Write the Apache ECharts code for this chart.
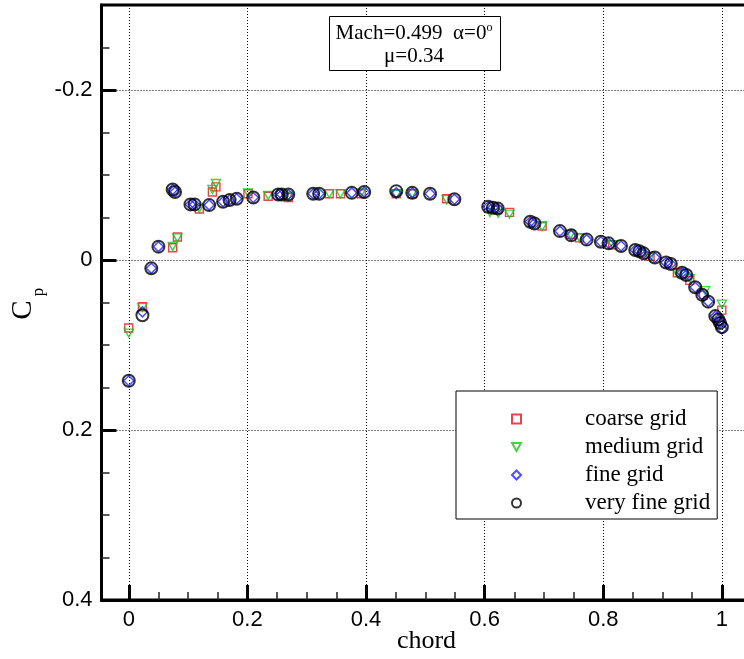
<!DOCTYPE html>
<html>
<head>
<meta charset="utf-8">
<title>Cp distribution</title>
<script src="https://cdn.jsdelivr.net/npm/echarts@6/dist/echarts.min.js"></script>
<style>
  html, body { margin: 0; padding: 0; background: #fff; }
  #chart { width: 744px; height: 659px; }
</style>
</head>
<body>
<div id="chart"></div>
<script>
// Pressure coefficient along the chord, four grid levels
const coarseX  = [0, 0.023, 0.074, 0.082, 0.119, 0.141, 0.147, 0.201, 0.235, 0.269, 0.338, 0.357, 0.392, 0.451, 0.478, 0.536, 0.622, 0.642, 0.697, 0.745, 0.760, 0.816, 0.879, 0.925, 0.946, 0.969, 1.0];
const coarseCp = [0.080, 0.055, -0.0145, -0.027, -0.060, -0.080, -0.086, -0.078, -0.075, -0.0735, -0.078, -0.078, -0.078, -0.078, -0.078, -0.072, -0.059, -0.056, -0.040, -0.030, -0.026, -0.018, -0.0045, 0.015, 0.024, 0.041, 0.059];

const mediumX  = [0, 0.023, 0.074, 0.082, 0.119, 0.141, 0.147, 0.201, 0.235, 0.269, 0.338, 0.357, 0.392, 0.451, 0.478, 0.536, 0.609, 0.623, 0.642, 0.697, 0.745, 0.760, 0.816, 0.879, 0.925, 0.946, 0.972, 1.0];
const mediumCp = [0.086, 0.056, -0.016, -0.026, -0.061, -0.083, -0.090, -0.079, -0.076, -0.075, -0.078, -0.078, -0.079, -0.077, -0.078, -0.071, -0.056, -0.055, -0.054, -0.039, -0.030, -0.026, -0.018, -0.003, 0.016, 0.022, 0.036, 0.052];

const fineX  = [0, 0.023, 0.038, 0.050, 0.074, 0.078, 0.104, 0.111, 0.1355, 0.159, 0.170, 0.182, 0.210, 0.252, 0.258, 0.269, 0.311, 0.321, 0.376, 0.397, 0.451, 0.478, 0.508, 0.549, 0.606, 0.614, 0.622, 0.677, 0.684, 0.727, 0.746, 0.772, 0.796, 0.809, 0.830, 0.854, 0.861, 0.868, 0.887, 0.906, 0.914, 0.933, 0.940, 0.955, 0.967, 0.977, 0.989, 0.994, 0.997, 1.0];
const fineCp = [0.142, 0.061, 0.0098, -0.0157, -0.083, -0.080, -0.0654, -0.0654, -0.0646, -0.0685, -0.0705, -0.072, -0.0736, -0.077, -0.077, -0.077, -0.078, -0.078, -0.079, -0.080, -0.079, -0.079, -0.078, -0.0715, -0.0626, -0.0614, -0.0607, -0.045, -0.043, -0.034, -0.029, -0.024, -0.0215, -0.0196, -0.0164, -0.0117, -0.0102, -0.0078, -0.003, 0.003, 0.0047, 0.015, 0.0176, 0.032, 0.041, 0.049, 0.066, 0.070, 0.074, 0.081];

const veryFineX  = [0, 0.023, 0.038, 0.050, 0.074, 0.078, 0.104, 0.111, 0.1355, 0.159, 0.170, 0.182, 0.210, 0.252, 0.258, 0.269, 0.311, 0.321, 0.376, 0.397, 0.451, 0.478, 0.508, 0.549, 0.606, 0.614, 0.622, 0.677, 0.684, 0.727, 0.746, 0.772, 0.796, 0.809, 0.830, 0.854, 0.861, 0.868, 0.887, 0.906, 0.914, 0.933, 0.940, 0.955, 0.967, 0.977, 0.989, 0.994, 0.997, 1.0];
const veryFineCp = [0.142, 0.065, 0.0098, -0.0157, -0.083, -0.080, -0.0654, -0.0654, -0.0646, -0.0685, -0.0705, -0.072, -0.0736, -0.077, -0.077, -0.077, -0.078, -0.078, -0.079, -0.080, -0.081, -0.079, -0.078, -0.0715, -0.0626, -0.0614, -0.0607, -0.045, -0.043, -0.034, -0.029, -0.024, -0.0215, -0.0196, -0.0164, -0.0117, -0.0102, -0.0078, -0.003, 0.003, 0.0047, 0.015, 0.0176, 0.032, 0.041, 0.049, 0.066, 0.070, 0.074, 0.079];

const seriesNames = ['coarse grid', 'medium grid', 'fine grid', 'very fine grid'];

// axis ticks
const xMajorTicks = [0, 0.2, 0.4, 0.6, 0.8, 1];
const xMinorTicks = [0.05, 0.1, 0.15, 0.25, 0.3, 0.35, 0.45, 0.5, 0.55, 0.65, 0.7, 0.75, 0.85, 0.9, 0.95];
const yMajorTicks = [-0.2, 0, 0.2, 0.4];
const yMinorTicks = [-0.25, -0.15, -0.1, -0.05, 0.05, 0.1, 0.15, 0.25, 0.3, 0.35];

const X_MIN = -0.046, X_MAX = 1.05;
const Y_MIN = -0.3, Y_MAX = 0.4;

const pair = (xs, ys) => xs.map((x, i) => [x, ys[i]]);

const sansFont = 'Liberation Sans, Arial, sans-serif';
const serifFont = 'Liberation Serif, Times New Roman, serif';
const gridDots = { color: '#000', width: 1, type: [1, 2] };

const chart = echarts.init(document.getElementById('chart'), null, { renderer: 'canvas' });

chart.setOption({
  animation: false,
  backgroundColor: '#fff',
  grid: {
    left: 101.5, top: 5, width: 650, height: 595,
    outerBoundsMode: 'none', containLabel: false,
    show: true, borderColor: '#000', borderWidth: 3, backgroundColor: 'transparent'
  },
  xAxis: [
    {
      type: 'value', min: X_MIN, max: X_MAX, position: 'bottom',
      axisLine: { show: true, onZero: false, lineStyle: { color: '#000', width: 3 } },
      axisTick: { show: true, inside: true, length: 15, customValues: xMajorTicks, lineStyle: { color: '#000', width: 3 } },
      axisLabel: { customValues: xMajorTicks, color: '#000', fontSize: 22, fontFamily: sansFont, margin: 9 },
      splitLine: { show: true, lineStyle: gridDots },
      name: 'chord', nameLocation: 'middle', nameGap: 28, nameMoveOverlap: false,
      nameTextStyle: { color: '#000', fontSize: 26, fontFamily: serifFont }
    },
    {
      type: 'value', min: X_MIN, max: X_MAX, position: 'bottom',
      axisLine: { show: false, onZero: false },
      axisTick: { show: true, inside: true, length: 8, customValues: xMinorTicks, lineStyle: { color: '#222', width: 1.5 } },
      axisLabel: { show: false },
      splitLine: { show: false }
    }
  ],
  yAxis: [
    {
      type: 'value', min: Y_MIN, max: Y_MAX, inverse: true, position: 'left',
      axisLine: { show: true, onZero: false, lineStyle: { color: '#000', width: 3 } },
      axisTick: { show: true, inside: true, length: 15, customValues: yMajorTicks, lineStyle: { color: '#000', width: 3 } },
      axisLabel: { customValues: yMajorTicks, color: '#000', fontSize: 22, fontFamily: sansFont, margin: 9 },
      splitLine: { show: true, lineStyle: gridDots }
    },
    {
      type: 'value', min: Y_MIN, max: Y_MAX, inverse: true, position: 'left',
      axisLine: { show: false, onZero: false },
      axisTick: { show: true, inside: true, length: 8, customValues: yMinorTicks, lineStyle: { color: '#222', width: 1.5 } },
      axisLabel: { show: false },
      splitLine: { show: false }
    }
  ],
  legend: {
    orient: 'vertical', left: 456, top: 391,
    itemWidth: 9, itemHeight: 9, itemGap: 0,
    padding: [14, 7, 2, 55],
    borderColor: '#000', borderWidth: 1, backgroundColor: '#fff',
    textStyle: { color: '#000', fontSize: 23, fontFamily: serifFont, lineHeight: 28, padding: [0, 0, 0, 59] },
    data: seriesNames
  },
  graphic: [
    // annotation box with flow conditions
    {
      type: 'rect', left: 329, top: 16, z: 10,
      shape: { width: 171, height: 54 },
      style: { fill: '#fff', stroke: '#000', lineWidth: 1 }
    },
    {
      type: 'text', x: 414, y: 33, z: 11,
      style: {
        text: '{t|Mach=0.499  α=0}{s|o}', align: 'center', verticalAlign: 'middle',
        rich: {
          t: { fontSize: 21, fontFamily: serifFont, fill: '#000' },
          s: { fontSize: 12, fontFamily: serifFont, fill: '#000', verticalAlign: 'top', padding: [0, 0, 10, 0] }
        }
      }
    },
    {
      type: 'text', x: 414, y: 56, z: 11,
      style: { text: 'μ=0.34', fontSize: 21, fontFamily: serifFont, fill: '#000', align: 'center', verticalAlign: 'middle' }
    },
    // y-axis title C_p
    {
      type: 'text', x: 23, y: 310, rotation: Math.PI / 2, z: 11,
      style: { text: 'C', fontSize: 29, fontFamily: serifFont, fill: '#000', align: 'center', verticalAlign: 'middle' }
    },
    {
      type: 'text', x: 39, y: 292, rotation: Math.PI / 2, z: 11,
      style: { text: 'p', fontSize: 17, fontFamily: serifFont, fill: '#000', align: 'center', verticalAlign: 'middle' }
    }
  ],
  series: [
    {
      name: seriesNames[0], type: 'scatter', data: pair(coarseX, coarseCp),
      symbol: 'rect', symbolSize: 8,
      itemStyle: { color: 'rgba(255,255,255,0)', borderColor: '#e0141e', borderWidth: 1.4 }
    },
    {
      name: seriesNames[1], type: 'scatter', data: pair(mediumX, mediumCp),
      symbol: 'path://M0,0 L10,0 L5,9 Z', symbolSize: [9, 8],
      itemStyle: { color: 'rgba(255,255,255,0)', borderColor: '#14c814', borderWidth: 1.4 }
    },
    {
      name: seriesNames[2], type: 'scatter', data: pair(fineX, fineCp),
      symbol: 'diamond', symbolSize: 10,
      itemStyle: { color: 'rgba(255,255,255,0)', borderColor: '#2222ff', borderWidth: 1.5 }
    },
    {
      name: seriesNames[3], type: 'scatter', data: pair(veryFineX, veryFineCp),
      symbol: 'circle', symbolSize: 12,
      itemStyle: { color: 'rgba(255,255,255,0)', borderColor: '#000', borderWidth: 2 }
    }
  ]
});
</script>
</body>
</html>
